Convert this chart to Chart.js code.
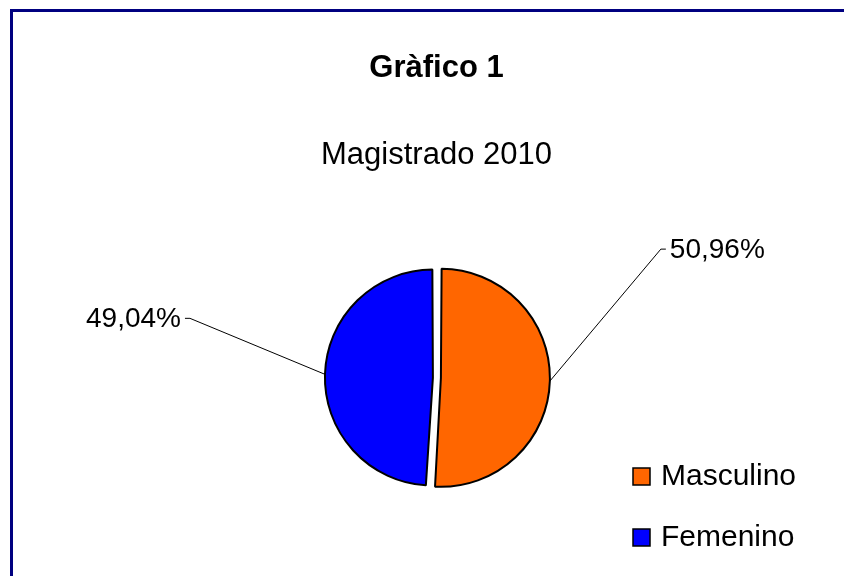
<!DOCTYPE html>
<html lang="es">
<head>
  <meta charset="UTF-8" />
  <title>Gràfico 1 - Magistrado 2010</title>
  <script src="https://cdn.jsdelivr.net/npm/chart.js"></script>
  <style>
    html, body {
      margin: 0;
      padding: 0;
      background: #fff;
      overflow: hidden;
    }
    .frame {
      position: absolute;
      left: 10px;
      top: 9px;
      width: 900px;
      height: 700px;
      border: 3px solid #000080;
    }
    #pieChart {
      position: absolute;
      left: 0;
      top: 0;
      display: block;
    }
  </style>
</head>
<body>
  <div class="frame"></div>
  <canvas id="pieChart" width="844" height="576"></canvas>

  <script>
    // data
    const categories = ['Masculino', 'Femenino'];
    const percentages = [50.96, 49.04];
    const sliceColors = ['#ff6600', '#0000ff'];

    const FONT = "'Liberation Sans', Arial, sans-serif";

    // where each percentage label sits, relative to the point on the slice edge
    const labelElbows = [
      { dx: 111, dy: -132, side: 'right' },
      { dx: -135, dy: -56, side: 'left' }
    ];

    function pct(v) {
      return v.toFixed(2).replace('.', ',') + '%';
    }

    const pieLabels = {
      id: 'pieLabels',
      afterDatasetsDraw(chart) {
        const ctx = chart.ctx;
        const meta = chart.getDatasetMeta(0);
        const values = chart.data.datasets[0].data;
        ctx.save();
        meta.data.forEach((arc, i) => {
          // same shift the arc element applies when drawing an offset slice
          const offset = (arc.options.offset || 0) / 4;
          const circ = arc.endAngle - arc.startAngle;
          const fix = 1 - Math.sin(Math.min(Math.PI, circ));
          const mid = (arc.startAngle + arc.endAngle) / 2;
          const r = arc.outerRadius + offset * fix;
          const cx = arc.x + Math.cos(mid) * offset;
          const cy = arc.y + Math.sin(mid) * offset;
          const ex = cx + Math.cos(mid) * r;
          const ey = cy + Math.sin(mid) * r;
          const el = labelElbows[i];
          const bx = ex + el.dx;
          const by = ey + el.dy;
          const dir = el.side === 'right' ? 1 : -1;

          ctx.strokeStyle = '#000';
          ctx.lineWidth = 1;
          ctx.beginPath();
          ctx.moveTo(ex, ey);
          ctx.lineTo(bx, by);
          ctx.lineTo(bx + dir * 5, by);
          ctx.stroke();

          ctx.fillStyle = '#000';
          ctx.font = '28px ' + FONT;
          ctx.textBaseline = 'middle';
          ctx.textAlign = el.side === 'right' ? 'left' : 'right';
          ctx.fillText(pct(values[i]), bx + dir * 9, by + 1);
        });
        ctx.restore();
      }
    };

    const boxLegend = {
      id: 'boxLegend',
      afterDraw(chart) {
        const ctx = chart.ctx;
        const ds = chart.data.datasets[0];
        ctx.save();
        ctx.font = '30px ' + FONT;
        ctx.textBaseline = 'middle';
        ctx.textAlign = 'left';
        chart.data.labels.forEach((lab, i) => {
          const x = 633;
          const y = 468 + i * 61;
          ctx.fillStyle = ds.backgroundColor[i];
          ctx.fillRect(x, y, 17, 17);
          ctx.strokeStyle = '#000';
          ctx.lineWidth = 1.5;
          ctx.strokeRect(x, y, 17, 17);
          ctx.fillStyle = '#000';
          ctx.fillText(lab, x + 28, y + 9);
        });
        ctx.restore();
      }
    };

    new Chart(document.getElementById('pieChart'), {
      type: 'pie',
      data: {
        labels: categories,
        datasets: [{
          data: percentages,
          backgroundColor: sliceColors,
          borderColor: '#000',
          borderWidth: 2,
          offset: [17.6, 14.4],
          radius: 104.6
        }]
      },
      options: {
        responsive: false,
        animation: false,
        layout: { padding: { top: 0, left: 29, right: 0, bottom: 5 } },
        plugins: {
          legend: { display: false },
          tooltip: { enabled: false },
          title: {
            display: true,
            text: 'Gràfico 1',
            color: '#000',
            font: { family: FONT, size: 31, weight: 'bold' },
            padding: { top: 50, bottom: 24 }
          },
          subtitle: {
            display: true,
            text: 'Magistrado 2010',
            color: '#000',
            font: { family: FONT, size: 31 },
            padding: { top: 26, bottom: 10 }
          }
        }
      },
      plugins: [pieLabels, boxLegend]
    });
  </script>
</body>
</html>
